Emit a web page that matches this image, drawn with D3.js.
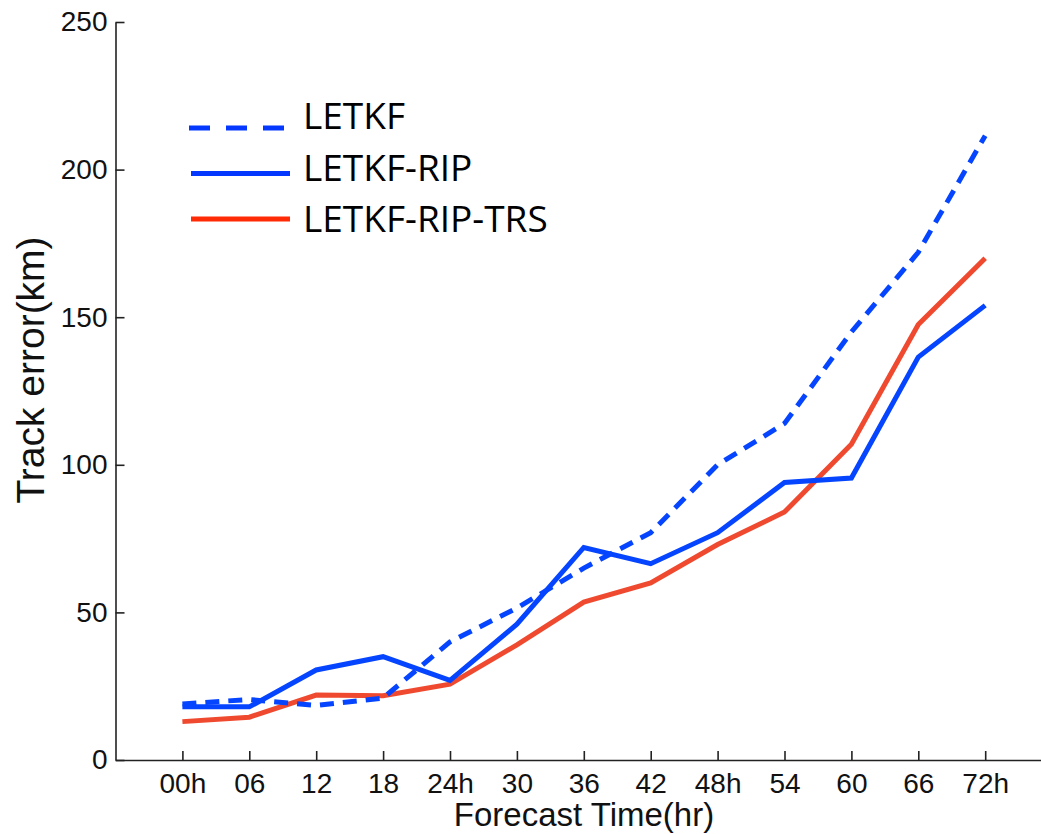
<!DOCTYPE html>
<html>
<head>
<meta charset="utf-8">
<script src="https://cdn.jsdelivr.net/npm/d3@7"></script>
<style>
  html, body { margin: 0; padding: 0; background: #fff; }
  svg { display: block; }
</style>
</head>
<body>
<div id="chart"></div>
<script>
const width = 1041;
const height = 834;

// forecast lead times (x axis tick labels)
const leadTimes = ["00h", "06", "12", "18", "24h", "30", "36", "42", "48h", "54", "60", "66", "72h"];

// track error (km) per experiment
const letkf = [19, 20.5, 18.5, 21, 40, 51.5, 65, 77, 100, 114, 145, 172, 211.5];
const letkfRip = [18, 18, 30.5, 35, 27, 46, 72, 66.5, 77, 94, 95.5, 136.5, 154];
const letkfRipTrs = [13, 14.5, 22, 21.8, 25.7, 39, 53.5, 60, 73, 84, 107, 147.5, 170];

const yTicks = [0, 50, 100, 150, 200, 250];

const series = [
  { name: "LETKF", values: letkf, color: "#0645ff", legendColor: "#0538ff", dash: "14,9", legendDash: "21,16" },
  { name: "LETKF-RIP", values: letkfRip, color: "#0645ff", legendColor: "#0538ff", dash: null, legendDash: null },
  { name: "LETKF-RIP-TRS", values: letkfRipTrs, color: "#ef4a2f", legendColor: "#ff2a06", dash: null, legendDash: null },
];

const svg = d3
  .select("#chart")
  .append("svg")
  .attr("width", width)
  .attr("height", height);

const x = d3.scaleLinear().domain([-1, 13]).range([115.5, 115.5 + 14 * 66.9]);
const y = d3.scaleLinear().domain([0, 250]).range([760, 22]);

const axisFont = "'Liberation Sans', Arial, Helvetica, sans-serif";

// y axis
const yAxis = svg
  .append("g")
  .attr("transform", `translate(${x(-1)},0)`)
  .call(d3.axisLeft(y).tickValues(yTicks).tickSizeInner(-9).tickSizeOuter(0).tickPadding(8));

// x axis
const xAxis = svg
  .append("g")
  .attr("transform", `translate(0,${y(0)})`)
  .call(
    d3
      .axisBottom(x)
      .tickValues(d3.range(leadTimes.length))
      .tickFormat((i) => leadTimes[i])
      .tickSizeInner(-9)
      .tickSizeOuter(0)
      .tickPadding(13),
  );

[yAxis, xAxis].forEach((g) => {
  g.select(".domain").attr("stroke", "#222").attr("stroke-width", 1.6);
  g.selectAll(".tick line").attr("stroke", "#222").attr("stroke-width", 1.6);
  g.selectAll(".tick text")
    .attr("fill", "#111")
    .style("font-family", axisFont)
    .style("font-size", "28px");
});

// axis titles
svg
  .append("text")
  .attr("x", 584)
  .attr("y", 826)
  .attr("text-anchor", "middle")
  .style("font-family", axisFont)
  .style("font-size", "33px")
  .attr("fill", "#111")
  .text("Forecast Time(hr)");

svg
  .append("text")
  .attr("transform", "translate(44,370) rotate(-90)")
  .attr("text-anchor", "middle")
  .style("font-family", axisFont)
  .style("font-size", "39px")
  .attr("fill", "#111")
  .text("Track error(km)");

// lines
const line = d3
  .line()
  .x((d, i) => x(i))
  .y((d) => y(d));

svg
  .append("g")
  .selectAll("path")
  .data(series.slice().reverse())
  .join("path")
  .attr("d", (d) => line(d.values))
  .attr("fill", "none")
  .attr("stroke", (d) => d.color)
  .attr("stroke-width", 5)
  .attr("stroke-linejoin", "miter")
  .attr("stroke-dasharray", (d) => d.dash);

// legend (pasted-in style, own font)
const legend = svg.append("g");

legend
  .selectAll("line")
  .data(series)
  .join("line")
  .attr("x1", (d, i) => (i === 0 ? 189 : 191))
  .attr("x2", (d, i) => (i === 0 ? 285 : 290))
  .attr("y1", (d, i) => 128 + i * 45.5)
  .attr("y2", (d, i) => 128 + i * 45.5)
  .attr("stroke", (d) => d.legendColor)
  .attr("stroke-width", 5)
  .attr("stroke-dasharray", (d) => d.legendDash);

legend
  .selectAll("text")
  .data(series)
  .join("text")
  .attr("x", 303)
  .attr("y", (d, i) => 129 + i * 51.5)
  .style("font-family", "'Open Sans', 'Noto Sans', sans-serif")
  .style("font-size", "37px")
  .attr("fill", "#000")
  .text((d) => d.name);
</script>
</body>
</html>
